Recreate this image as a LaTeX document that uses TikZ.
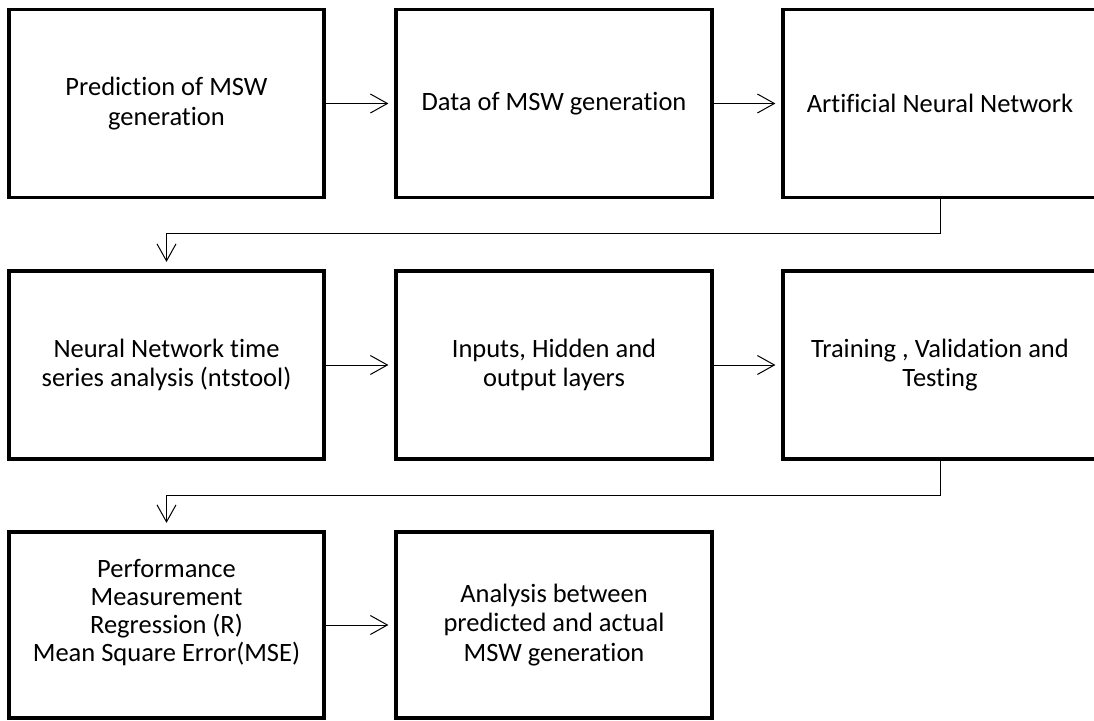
\documentclass[tikz,border=0pt]{standalone}
\usepackage{fontspec}
\setmainfont[Ligatures=NoCommon]{Carlito}
\usetikzlibrary{arrows.meta}
\begin{document}
\begin{tikzpicture}[x=1pt,y=-1pt,
  box/.style={draw=black,line width=3.2pt,rectangle,minimum width=315pt,minimum height=188pt,align=center,inner sep=0pt,font=\fontsize{26.5}{29.5}\selectfont},
  lbl/.style={align=center,inner sep=0pt,font=\fontsize{26.5}{28}\selectfont},
  conn/.style={draw=black,line width=1pt,-{Straight Barb[length=17pt,width=19pt,line width=1pt]},shorten >=6pt}]
\useasboundingbox (0,0) rectangle (1094,720);
\node[box] (b1) at (166.5,103.5) {Prediction of MSW\\generation};
\node[box,minimum width=316pt] (b2) at (554,103.5) {Data of MSW generation};
\node[box,minimum width=314pt] (b3) at (940,103.5) {Artificial Neural Network};
\node[box] (b4) at (166.5,365) {Neural Network time\\series analysis (ntstool)};
\node[box,minimum width=316pt] (b5) at (554,365) {Inputs, Hidden and\\output layers};
\node[box,minimum width=314pt] (b6) at (940,365) {Training , Validation and\\Testing};
\node[box,minimum height=186pt] (b7) at (166.5,625) {};
\node[lbl] (t7) at (166.5,613) {Performance\\Measurement\\Regression (R)\\Mean Square Error(MSE)};
\node[box,minimum width=316pt,minimum height=186pt] (b8) at (554,625) {Analysis between\\predicted and actual\\MSW generation};
\draw[conn] (b1) -- (b2);
\draw[conn] (b2) -- (b3);
\draw[conn,shorten >=7.5pt] (b3.south) -- ++(0,34) -| (b4.north);
\draw[conn] (b4) -- (b5);
\draw[conn] (b5) -- (b6);
\draw[conn,shorten >=7.5pt] (b6.south) -- ++(0,35) -| (b7.north);
\draw[conn] (b7) -- (b8);
\end{tikzpicture}
\end{document}
